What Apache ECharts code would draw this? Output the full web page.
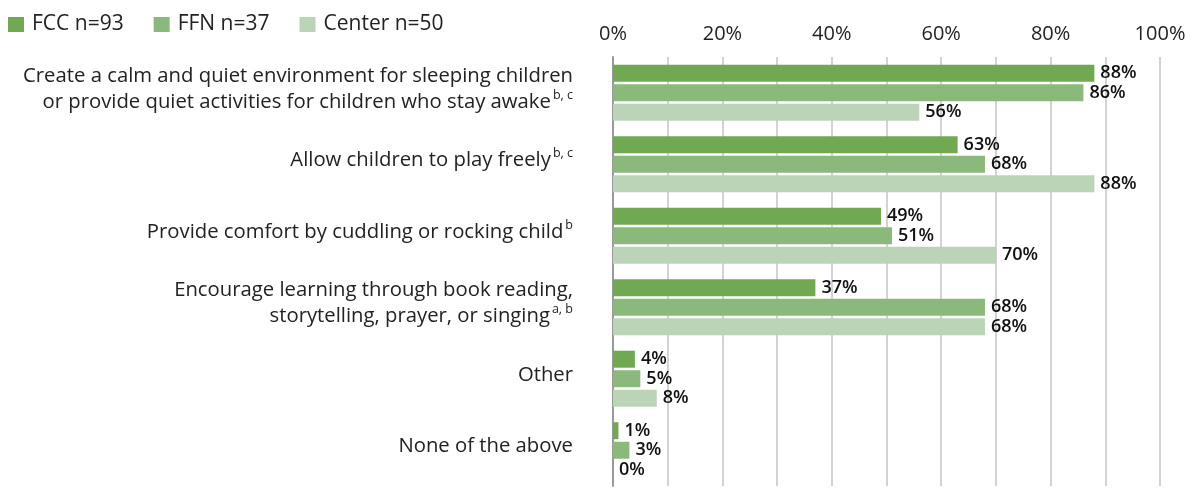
<!DOCTYPE html>
<html><head><meta charset="utf-8">
<script src="https://cdn.jsdelivr.net/npm/echarts@6/dist/echarts.min.js"></script>
<style>html,body{margin:0;padding:0;background:#fff}#c{width:1193px;height:492px}</style>
</head><body><div id="c"></div>
<script>
const categories = [
  "Create a calm and quiet environment for sleeping children\nor provide quiet activities for children who stay awake{sup|b, c}",
  "Allow children to play freely{sup|b, c}",
  "Provide comfort by cuddling or rocking child{sup|b}",
  "Encourage learning through book reading,\nstorytelling, prayer, or singing{sup|a, b}",
  "Other",
  "None of the above"
];
const seriesNames = ["FCC n=93", "FFN n=37", "Center n=50"];
const fcc = [88, 63, 49, 37, 4, 1];
const ffn = [86, 68, 51, 68, 5, 3];
const center = [56, 88, 70, 68, 8, 0];
const colors = ["#70a951", "#8bb87b", "#bbd4b7"];
const FONT = "Open Sans";

const chart = echarts.init(document.getElementById('c'));
const mk = (name, data, color) => ({
  name, type: 'bar', data, barWidth: 17, barGap: '15%',
  itemStyle: { color },
  label: { show: true, position: 'right', distance: 6, formatter: '{c}%',
    color: '#111', fontFamily: FONT, fontWeight: 600, fontSize: 18 }
});
chart.setOption({
  animation: false,
  textStyle: { fontFamily: FONT },
  legend: {
    left: 3, top: 9, itemWidth: 16, itemHeight: 15, itemGap: 30,
    icon: 'rect',
    textStyle: { fontFamily: FONT, fontSize: 21, color: '#222', padding: [0, 0, 0, 3] },
    data: seriesNames
  },
  grid: { left: 613, right: 33, top: 57, bottom: 6 },
  xAxis: {
    type: 'value', position: 'top', min: 0, max: 100, interval: 10,
    axisLine: { show: false }, axisTick: { show: false },
    axisLabel: { margin: 13, fontFamily: FONT, fontSize: 20, color: '#222',
      formatter: v => (v % 20 === 0 ? v + '%' : '') },
    splitLine: { lineStyle: { color: '#c4c4c4', width: 1.5 } }
  },
  yAxis: {
    type: 'category', inverse: true, data: categories,
    axisLine: { lineStyle: { color: '#999', width: 2 } },
    axisTick: { show: false },
    axisLabel: { margin: 40, fontFamily: FONT, fontSize: 20.3, color: '#222',
      align: 'right', lineHeight: 26, padding: [0, 0, 8, 0],
      rich: { sup: { fontSize: 12.5, verticalAlign: 'top', lineHeight: 26, padding: [0, 0, 10, 2], fontFamily: FONT, color: '#222' } } }
  },
  series: [mk(seriesNames[0], fcc, colors[0]), mk(seriesNames[1], ffn, colors[1]), mk(seriesNames[2], center, colors[2])]
});
</script></body></html>
